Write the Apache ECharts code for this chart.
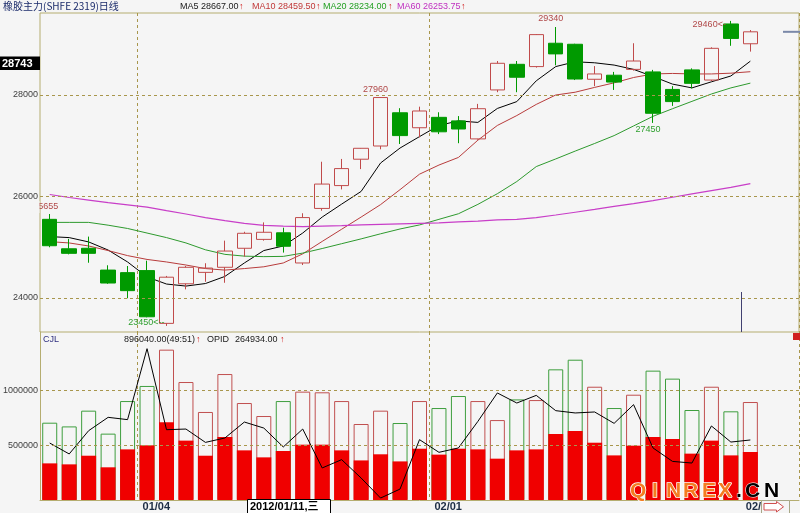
<!DOCTYPE html>
<html><head><meta charset="utf-8">
<script src="https://cdn.jsdelivr.net/npm/echarts@6/dist/echarts.min.js"></script>
<style>html,body{margin:0;padding:0;background:#f5f5f5}#c{width:800px;height:513px}</style>
</head><body><div id="c"></div>
<script>
// ---------------- data ----------------
const dates = ['2011/12/26','2011/12/27','2011/12/28','2011/12/29','2011/12/30',
  '2012/01/04','2012/01/05','2012/01/06','2012/01/09','2012/01/10','2012/01/11','2012/01/12','2012/01/13',
  '2012/01/16','2012/01/17','2012/01/18','2012/01/19','2012/01/20','2012/01/30','2012/01/31',
  '2012/02/01','2012/02/02','2012/02/03','2012/02/06','2012/02/07','2012/02/08','2012/02/09','2012/02/10',
  '2012/02/13','2012/02/14','2012/02/15','2012/02/16','2012/02/17','2012/02/20','2012/02/21','2012/02/22','2012/02/23'];
const emptySlots = ['', ''];
const opens  = [25550,24970,24980,24550,24500,24540,23500,24280,24505,24605,24980,25155,25285,24690,25765,26215,26735,26995,27650,27355,27560,27490,27135,28100,28605,28560,29020,29000,28310,28390,28505,28455,28110,28495,28295,29400,29010];
const closes = [25030,24880,24880,24295,24145,23630,24410,24605,24590,24925,25275,25295,25020,25585,26245,26550,26950,27950,27200,27685,27275,27330,27730,28625,28350,29190,28810,28315,28415,28255,28670,27640,27870,28230,28920,29115,29245];
const lows   = [25000,24860,24695,24280,23995,23620,23450,24170,24320,24300,24815,25130,24895,24650,25720,26140,26540,26930,27035,27165,27230,27050,27120,28055,28055,28540,28585,28295,28175,28100,28480,27450,27785,28130,28275,28970,28855];
const highs  = [25655,25165,25210,24645,24630,24735,24435,24630,24685,25130,25305,25490,25385,25670,26685,26740,26955,27960,27740,27770,27660,27585,27825,28670,28670,29200,29340,29010,28570,28455,29020,28495,28175,28525,28940,29460,29280];
const ma5  = [25210,25190,25105,24945,24710,24415,24275,24235,24285,24425,24690,24935,25025,25280,25595,25850,26100,26660,26955,27180,27400,27490,27460,27735,27870,28280,28560,28655,28635,28590,28505,28365,28215,28140,28260,28375,28667];
const ma10 = [25110,25085,25025,24935,24835,24760,24710,24650,24580,24550,24580,24615,24690,24870,25115,25355,25595,25840,26135,26440,26620,26770,27110,27400,27595,27815,28000,28055,28150,28240,28345,28415,28425,28415,28415,28430,28459.5];
const ma20 = [25490,25490,25490,25435,25370,25280,25190,25085,24950,24860,24825,24815,24820,24885,24975,25070,25165,25265,25360,25440,25550,25660,25845,26055,26295,26590,26740,26895,27045,27200,27390,27580,27730,27875,28020,28140,28234];
const ma60 = [26040,25980,25930,25880,25835,25790,25720,25655,25585,25525,25470,25430,25415,25405,25415,25425,25440,25450,25460,25470,25480,25500,25515,25540,25550,25585,25635,25690,25745,25805,25860,25920,25985,26050,26115,26180,26253.75];
const volTotal = [707000,673000,817000,607000,905000,1043000,1375000,1079000,805000,1152000,887000,768000,905000,991000,985000,905000,695000,817000,704000,905000,841000,951000,905000,731000,920000,914000,1195000,1283000,1036000,841000,963000,1183000,1110000,823000,1036000,811000,896040];
const volPart  = [335000,326000,405000,299000,463000,500000,710000,543000,405000,576000,454000,390000,448000,506000,506000,454000,362000,418000,353000,469000,415000,469000,463000,378000,454000,463000,603000,631000,524000,408000,497000,576000,558000,424000,543000,408000,439000];
const volLine  = [521000,421000,634000,756000,735000,1384000,643000,649000,527000,567000,713000,658000,485000,649000,293000,369000,201000,18000,100000,552000,436000,476000,719000,979000,887000,957000,817000,796000,805000,701000,872000,476000,353000,338000,677000,530000,549000];
const volRatio = '49:51';
const opid = 264934;
const priceTicks = [24000, 26000, 28000];
const volTicks = [500000, 1000000];
const splitIdx = [5, 20];
const dateTickIdx = [5, 20, 36];
const dateTickText = ['01/04', '02/01', '02/23'];
const cursorIdx = 10;
const cursorText = '2012/01/11,三';
const cursorPrice = '28743';
const title = '橡胶主力(SHFE 2319)日线';

// ---------------- chart ----------------
const cats = dates.concat(emptySlots);
const candle = dates.map((d, i) => [opens[i], closes[i], lows[i], highs[i]]);
const UP = '#c04a4a', DN = '#009a00';
const GRIDC = '#b5ad70', DASH = '#a8964c';
const FONT = 'Liberation Sans, DejaVu Sans, sans-serif';

const chart = echarts.init(document.getElementById('c'), null, {renderer: 'canvas'});
const splitFn = (i) => splitIdx.indexOf(i) >= 0;
const dashLine = {type: [3, 3], color: DASH, width: 1};
const mlLabel = {position: 'start', distance: 2, fontSize: 9, fontFamily: FONT, color: '#404040', formatter: p => String(p.value)};

chart.setOption({
  animation: false,
  backgroundColor: '#f5f5f5',
  grid: [
    {left: 40, top: 13, width: 759, height: 319, show: true, borderColor: GRIDC, borderWidth: 1, backgroundColor: 'transparent', containLabel: false, outerBoundsMode: 'none'},
    {left: 40, top: 332, width: 759, height: 168, show: false, containLabel: false, outerBoundsMode: 'none'}
  ],
  xAxis: [
    {type: 'category', gridIndex: 0, data: cats, boundaryGap: true, axisLine: {show: false}, axisTick: {show: false}, axisLabel: {show: false},
      splitLine: {show: true, interval: splitFn, lineStyle: dashLine}},
    {type: 'category', gridIndex: 1, data: cats, boundaryGap: true, axisLine: {show: true, lineStyle: {color: GRIDC, width: 1}}, axisTick: {show: false}, axisLabel: {show: false},
      splitLine: {show: true, interval: splitFn, lineStyle: dashLine}}
  ],
  yAxis: [
    {type: 'value', gridIndex: 0, min: 23330, max: 29616, axisLine: {show: false}, axisTick: {show: false}, axisLabel: {show: false}, splitLine: {show: false}},
    {type: 'value', gridIndex: 1, min: 0, max: 1536500, axisLine: {show: true, lineStyle: {color: GRIDC, width: 1}}, axisTick: {show: false}, axisLabel: {show: false}, splitLine: {show: false}}
  ],
  series: [
    {name: 'MA5', type: 'line', data: ma5, xAxisIndex: 0, yAxisIndex: 0, showSymbol: false, symbol: 'none', lineStyle: {color: '#000000', width: 1}, z: 2, silent: true},
    {name: 'MA10', type: 'line', data: ma10, xAxisIndex: 0, yAxisIndex: 0, showSymbol: false, symbol: 'none', lineStyle: {color: '#b83c3c', width: 1}, z: 2, silent: true},
    {name: 'MA20', type: 'line', data: ma20, xAxisIndex: 0, yAxisIndex: 0, showSymbol: false, symbol: 'none', lineStyle: {color: '#2e9a2e', width: 1}, z: 2, silent: true},
    {name: 'MA60', type: 'line', data: ma60, xAxisIndex: 0, yAxisIndex: 0, showSymbol: false, symbol: 'none', lineStyle: {color: '#c83ec8', width: 1.2}, z: 2, silent: true},
    {name: 'K', type: 'candlestick', data: candle, xAxisIndex: 0, yAxisIndex: 0, barWidth: 15, z: 3, silent: true,
      itemStyle: {color: 'rgba(0,0,0,0)', color0: DN, borderColor: UP, borderColor0: DN, borderWidth: 1},
      markLine: {silent: true, symbol: ['none', 'none'], animation: false, lineStyle: dashLine, label: mlLabel,
        data: priceTicks.map(v => ({yAxis: v}))}},
    {name: 'VOL', type: 'bar', xAxisIndex: 1, yAxisIndex: 1, barWidth: 15, barGap: '-100%', z: 2, silent: true,
      data: volTotal.map((v, i) => ({value: v, itemStyle: {color: 'rgba(0,0,0,0)', borderColor: closes[i] >= opens[i] ? '#c05050' : '#3e9e3e', borderWidth: 1}})),
      markLine: {silent: true, symbol: ['none', 'none'], animation: false, lineStyle: dashLine, label: mlLabel,
        data: volTicks.map(v => ({yAxis: v}))}},
    {name: 'VOLP', type: 'bar', xAxisIndex: 1, yAxisIndex: 1, barWidth: 15, barGap: '-100%', z: 3, silent: true,
      data: volPart, itemStyle: {color: '#f00000'}},
    {name: 'VOLL', type: 'line', xAxisIndex: 1, yAxisIndex: 1, data: volLine, showSymbol: false, symbol: 'none', lineStyle: {color: '#000', width: 1}, z: 4, silent: true}
  ]
});

// ---------------- annotations through the axes ----------------
const P = (i, v) => chart.convertToPixel({xAxisIndex: 0, yAxisIndex: 0}, [i, v]);
const g = [];
function txt(x, y, text, fill, opt) {
  opt = opt || {};
  g.push({type: 'text', x: x, y: y, z: opt.z || 100, silent: true,
    style: {text: text, fill: fill, font: (opt.weight || 'normal') + ' ' + (opt.size || 9) + 'px ' + (opt.family || FONT),
      align: opt.align || 'left', verticalAlign: opt.va || 'middle', stroke: opt.stroke, lineWidth: opt.lw || 0}});
}
// header
txt(3, 6, title, '#1a2a6a', {size: 10, family: 'Noto Sans CJK SC, sans-serif'});
const hdr = [
  ['MA5 ' + ma5[ma5.length - 1].toFixed(2), '#202020', 180, 239],
  ['MA10 ' + ma10[ma10.length - 1].toFixed(2), '#c03838', 252, 316],
  ['MA20 ' + ma20[ma20.length - 1].toFixed(2), '#22a022', 323, 388],
  ['MA60 ' + ma60[ma60.length - 1].toFixed(2), '#c030c0', 397, 461]
];
hdr.forEach(h => { txt(h[2], 6.5, h[0], h[1]); txt(h[3], 6.5, '↑', '#d02020'); });
// volume header
txt(43, 340, 'CJL', '#303080');
txt(124, 340, volTotal[volTotal.length - 1].toFixed(2) + '(' + volRatio + ')', '#202020');
txt(196, 340, '↑', '#d02020');
txt(207, 340, 'OPID', '#202020');
txt(235, 340, opid.toFixed(2), '#202020');
txt(280, 340, '↑', '#d02020');

// extreme labels
const hiC = '#b04848', loC = '#30a030';
let p;
p = P(0, highs[0]); txt(p[0] - 4, p[1] - 7, String(highs[0]), hiC, {align: 'center'});
g.push({type: 'rect', shape: {x: 0, y: p[1] - 13, width: 39.5, height: 12}, style: {fill: '#f5f5f5'}, z: 101, silent: true});
p = P(6, lows[6]); txt(p[0] - 2, p[1] - 3, lows[6] + '<--', loC, {align: 'right'});
p = P(17, highs[17]); txt(p[0] - 5, p[1] - 8, String(highs[17]), hiC, {align: 'center'});
p = P(26, highs[26]); txt(p[0] - 5, p[1] - 8, String(highs[26]), hiC, {align: 'center'});
p = P(31, lows[31]); txt(p[0] - 5, p[1] + 7, String(lows[31]), loC, {align: 'center'});
p = P(35, highs[35]); txt(p[0] - 5, p[1] + 4, highs[35] + '<-', hiC, {align: 'right'});

// last close marker
p = P(dates.length - 1, closes[closes.length - 1]);
g.push({type: 'line', shape: {x1: 783, y1: p[1], x2: 800, y2: p[1]}, style: {stroke: '#7a88a8', lineWidth: 2}, z: 100, silent: true});
g.push({type: 'line', shape: {x1: 741.5, y1: 292, x2: 741.5, y2: 332}, style: {stroke: '#404070', lineWidth: 1}, z: 100, silent: true});
g.push({type: 'rect', shape: {x: 793, y: 333, width: 7, height: 7}, style: {fill: '#d02020'}, z: 100, silent: true});

// cursor price box
g.push({type: 'rect', shape: {x: 0, y: 56.5, width: 40, height: 13.5}, style: {fill: '#000'}, z: 100, silent: true});
txt(2, 63.5, cursorPrice, '#ffffff', {size: 11, weight: 'bold'});

// date tick labels
dateTickIdx.forEach((idx, k) => {
  const q = P(idx, 24000);
  txt(q[0] - 4.5, 507, dateTickText[k], '#1c2c44', {size: 11, weight: 'bold'});
});
// cursor date box
p = P(cursorIdx, 24000);
g.push({type: 'rect', shape: {x: Math.round(p[0] + 2.5) + 0.5, y: 499.5, width: 83, height: 14}, style: {fill: '#ffffff', stroke: '#000', lineWidth: 1}, z: 110, silent: true});
txt(Math.round(p[0] + 2.5) + 3, 507, cursorText, '#000', {size: 11, weight: 'bold', family: 'Liberation Sans, Noto Sans CJK SC, sans-serif', z: 111});

// watermark
const wm = [['Q', 630], ['I', 652], ['N', 666], ['R', 683], ['E', 702], ['X', 718], ['.', 736], ['C', 745], ['N', 764]];
wm.forEach((w, k) => {
  const isCN = k >= 6;
  txt(w[1], 491, w[0], isCN ? '#000000' : '#f47c20', {size: 21, weight: 'bold', stroke: '#ffffff', lw: isCN ? 1 : 1.5, z: 120});
});

// scroll arrow button
g.push({type: 'rect', shape: {x: 761.5, y: 500.5, width: 28, height: 13}, style: {fill: '#f5f5f5', stroke: '#a8a888', lineWidth: 1}, z: 115, silent: true});
g.push({type: 'polygon', shape: {points: [[764, 503.5], [776.5, 503.5], [776.5, 501.5], [783.5, 506.8], [776.5, 512], [776.5, 510], [764, 510]]},
  style: {fill: '#ffffff', stroke: '#d05050', lineWidth: 1}, z: 116, silent: true});

chart.setOption({graphic: g});
</script>
</body></html>
